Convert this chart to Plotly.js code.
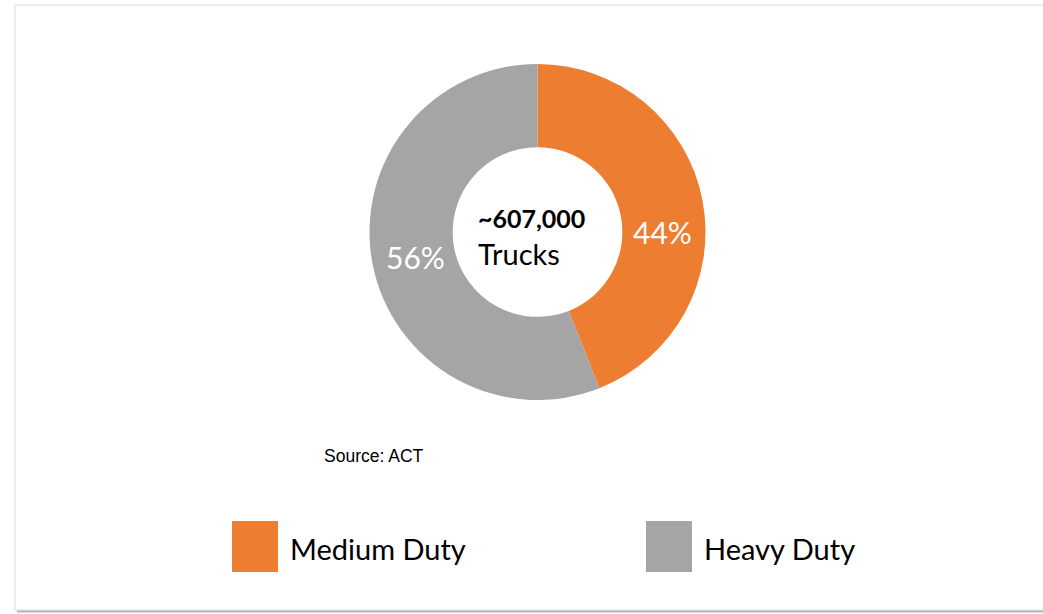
<!DOCTYPE html>
<html>
<head>
<meta charset="utf-8">
<script src="https://cdn.plot.ly/plotly-3.0.1.min.js"></script>
<style>html,body{margin:0;padding:0;background:#fff;}#chart{width:1043px;height:614px;}</style>
</head>
<body>
<div id="chart"></div>
<script>
const categories = ["Medium Duty", "Heavy Duty"];
const shares = [44, 56];
const colors = ["#ED7D31", "#A5A5A5"];
const totalLabel = "~607,000";
const unitLabel = "Trucks";
const sourceText = "Source: ACT";

const W = 1043, H = 614;
const px = x => x / W;
const py = y => 1 - y / H;
const FONT = "Lato, 'Open Sans', sans-serif";

const trace = {
  type: "pie",
  labels: categories,
  values: shares,
  marker: {colors: colors, line: {color: "#ffffff", width: 0}},
  hole: 0.505,
  sort: false,
  direction: "clockwise",
  rotation: 0,
  textinfo: "none",
  showlegend: false,
  hoverinfo: "label+percent",
  domain: {x: [px(369), px(706)], y: [py(400), py(64)]}
};

const total = shares.reduce((a, b) => a + b, 0);
const pctText = shares.map(v => Math.round(100 * v / total) + "%");

const shapes = [
  {type: "rect", xref: "paper", yref: "paper", x0: px(15), x1: px(1050), y0: py(610), y1: py(5),
   line: {color: "#EDEDED", width: 2}, fillcolor: "rgba(0,0,0,0)"},
  {type: "line", xref: "paper", yref: "paper", x0: px(17), x1: px(1050), y0: py(611.5), y1: py(611.5),
   line: {color: "#B4B4B4", width: 2}}
];
const annotations = [
  {xref: "paper", yref: "paper", x: px(476), y: py(218), xanchor: "left", yanchor: "middle",
   text: "<b>" + totalLabel + "</b>", showarrow: false, font: {family: FONT, size: 25, color: "#000"}},
  {xref: "paper", yref: "paper", x: px(476), y: py(254), xanchor: "left", yanchor: "middle",
   text: unitLabel, showarrow: false, font: {family: FONT, size: 29, color: "#000"}},
  {xref: "paper", yref: "paper", x: px(322), y: py(456), xanchor: "left", yanchor: "middle",
   text: sourceText, showarrow: false, font: {family: "'Liberation Sans', Arial, sans-serif", size: 17.5, color: "#000"}}
];
const pctPos = [[662, 232], [415, 257]];
pctText.forEach((t, i) => {
  annotations.push({xref: "paper", yref: "paper", x: px(pctPos[i][0]), y: py(pctPos[i][1]), xanchor: "center", yanchor: "middle",
    text: t, showarrow: false, font: {family: FONT, size: 30, color: "#ffffff"}});
});
const legendX = [232, 646];
categories.forEach((c, i) => {
  shapes.push({type: "rect", xref: "paper", yref: "paper", x0: px(legendX[i]), x1: px(legendX[i] + 46),
    y0: py(572), y1: py(521), fillcolor: colors[i], line: {width: 0}});
  annotations.push({xref: "paper", yref: "paper", x: px(legendX[i] + 56), y: py(548), xanchor: "left", yanchor: "middle",
    text: c, showarrow: false, font: {family: FONT, size: 29, color: "#000"}});
});

const layout = {
  width: W, height: H,
  margin: {l: 0, r: 0, t: 0, b: 0},
  paper_bgcolor: "#ffffff",
  showlegend: false,
  shapes: shapes,
  annotations: annotations
};
Plotly.newPlot("chart", [trace], layout, {displayModeBar: false, staticPlot: true});
</script>
</body>
</html>
